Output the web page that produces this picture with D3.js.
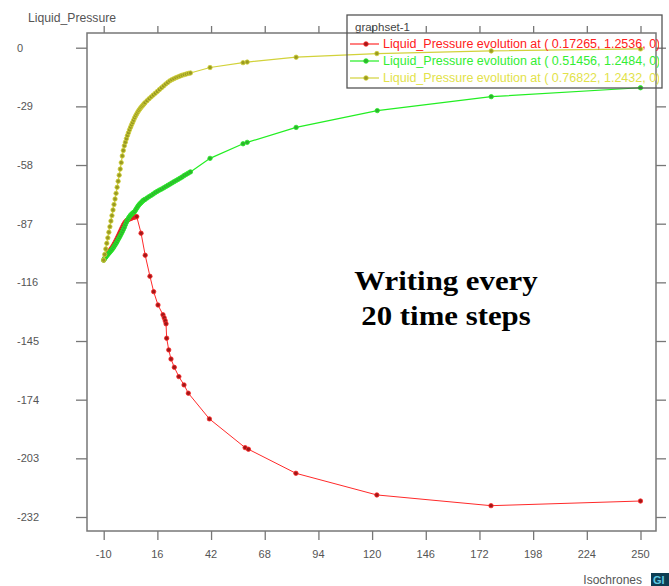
<!DOCTYPE html>
<html>
<head>
<meta charset="utf-8">
<script src="https://cdn.jsdelivr.net/npm/d3@7/dist/d3.min.js"></script>
<style>
  html, body { margin: 0; padding: 0; background: #fff; }
  svg { display: block; font-family: "Liberation Sans", Arial, sans-serif; }
</style>
</head>
<body>
<svg id="chart" width="669" height="586"></svg>
<script>
// Time (x) values and Liquid_Pressure (y) values for each probe location
const redTime = [-10, -9.5, -9, -8.5, -8, -7.5, -7, -6.5, -6, -5.5, -5, -4.5, -4, -3.5, -3, -2.5, -2, -1.5, -1, -0.5,
  0, 0.5, 1, 1.5, 2, 2.5, 3, 3.5, 4, 4.5, 5, 5.5, 6,
  8.1, 10.1, 12.4, 14.2, 16.3, 18.7, 19.3, 19.8, 20.2, 20.5, 21.5, 22.6, 24.2, 26.4, 28.9, 31,
  41.2, 58.5, 60.1, 83.1, 122.3, 177.6, 250];
const redPressure = [-105, -104, -103.2, -102.4, -101.7, -101, -100.3, -99.6, -98.9, -98.1, -97.2, -96.3, -95.3, -94.3, -93.2, -92.1, -91, -89.9, -88.8, -87.8,
  -86.9, -86.2, -85.6, -85.2, -84.9, -84.6, -84.4, -84.2, -84, -83.8, -83.7, -83.6, -83.5,
  -91.7, -102.6, -113, -120.6, -127.2, -132, -133.5, -135, -136.5, -143.6, -149.4, -153.9, -158, -162.6, -166.7, -170.8,
  -183.5, -197.7, -198.5, -210.4, -221.1, -226.4, -224.1];

const greenTime = [-10, -9.5, -9, -8.5, -8, -7.5, -7, -6.5, -6, -5.5, -5, -4.5, -4, -3.5, -3, -2.5, -2, -1.5, -1, -0.5,
  0, 0.5, 1, 1.5, 2, 2.5, 3, 3.5, 4, 4.5, 5, 5.5, 6, 6.5, 7, 7.5, 8, 8.5, 9, 9.5,
  10, 11, 12, 13, 14, 15, 16, 17, 18, 19, 20, 21, 22, 23, 24, 25, 26, 27, 28, 29, 30, 31, 32,
  41.5, 57.5, 59.5, 83.2, 122.5, 177.7, 250];
const greenPressure = [-105, -104.2, -103.5, -102.8, -102.2, -101.6, -101, -100.4, -99.8, -99.1, -98.3, -97.5, -96.7, -95.8, -94.8, -93.9, -93, -92, -91, -89.9,
  -88.8, -87.5, -86.3, -85.2, -84.3, -83.5, -82.8, -82.3, -81.8, -81.4, -81, -80.1, -79.3, -78.5, -77.8, -77.2, -76.7, -76.2, -75.6, -75.3,
  -75, -74.3, -73.6, -73, -72.3, -71.6, -71, -70.4, -69.9, -69.3, -68.7, -68.1, -67.5, -66.9, -66.3, -65.7, -65.1, -64.5, -63.9, -63.2, -62.6, -62, -61.4,
  -54.7, -47.5, -46.8, -39.4, -31.1, -24.2, -19.8];

const yellowTime = [-10, -9.5, -9, -8.5, -8, -7.5, -7, -6.5, -6, -5.5, -5, -4.5, -4, -3.5, -3, -2.5, -2, -1.5, -1, -0.5,
  0, 0.5, 1, 1.5, 2, 2.5, 3, 3.5, 4, 4.5, 5, 5.5, 6, 6.5, 7, 7.5, 8, 8.5, 9, 9.5,
  10, 11, 12, 13, 14, 15, 16, 17, 18, 19, 20, 21, 22, 23, 24, 25, 26, 27, 28, 29, 30, 31, 32,
  41.5, 57.5, 59.5, 83.2, 122.3, 177.7, 250];
const yellowPressure = [-105, -102.2, -99.5, -96.7, -94, -91.2, -88.5, -85.7, -83, -80.2, -77.5, -74.8, -72, -69, -66, -63, -60, -56.8, -53.5, -50.8,
  -48.5, -46.7, -45, -43.4, -42, -40.6, -39.3, -38.1, -37, -35.8, -34.6, -33.6, -32.7, -31.8, -31, -30.3, -29.6, -29, -28.4, -27.8,
  -27.2, -26.2, -25.2, -24.3, -23.4, -22.5, -21.6, -20.7, -19.8, -18.9, -18, -17.2, -16.4, -15.8, -15.3, -14.8, -14.4, -14, -13.6, -13.3, -13, -12.7, -12.5,
  -9.8, -7.4, -7.1, -4.7, -2.9, -1.6, -0.6];

const seriesLabels = [
  "Liquid_Pressure evolution at ( 0.17265, 1.2536, 0)",
  "Liquid_Pressure evolution at ( 0.51456, 1.2484, 0)",
  "Liquid_Pressure evolution at ( 0.76822, 1.2432, 0)"
];
const xTicks = [-10, 16, 42, 68, 94, 120, 146, 172, 198, 224, 250];
const yTicks = [0, -29, -58, -87, -116, -145, -174, -203, -232];

const svg = d3.select("#chart");

// Plot frame and scales
const frame = { left: 87, right: 656, top: 33, bottom: 531 };
const x = d3.scaleLinear().domain([-10, 250]).range([103.7, 640.5]);
const y = d3.scaleLinear().domain([0, -232]).range([47.7, 517]);

const axisColor = "#777";
const labelColor = "#555";

// Axes with outward ticks on all four sides
const gBottom = svg.append("g").attr("transform", `translate(0,${frame.bottom})`)
  .call(d3.axisBottom(x).tickValues(xTicks).tickSize(9).tickFormat(""));
const gTop = svg.append("g").attr("transform", `translate(0,${frame.top})`)
  .call(d3.axisTop(x).tickValues(xTicks).tickSize(7).tickFormat(""));
const gLeft = svg.append("g").attr("transform", `translate(${frame.left},0)`)
  .call(d3.axisLeft(y).tickValues(yTicks).tickSize(11).tickFormat(""));
const gRight = svg.append("g").attr("transform", `translate(${frame.right},0)`)
  .call(d3.axisRight(y).tickValues(yTicks).tickSize(10).tickFormat(""));
[gBottom, gTop, gLeft, gRight].forEach(g => {
  g.select(".domain").remove();
  g.selectAll(".tick line").attr("stroke", axisColor).attr("stroke-width", 1.3);
});

svg.append("rect")
  .attr("x", frame.left).attr("y", frame.top)
  .attr("width", frame.right - frame.left).attr("height", frame.bottom - frame.top)
  .attr("fill", "none").attr("stroke", axisColor).attr("stroke-width", 1.5);

// Tick labels
svg.append("g").selectAll("text").data(yTicks).join("text")
  .attr("x", 17).attr("y", d => y(d) + 4)
  .attr("font-size", 11).attr("fill", labelColor)
  .text(d => d);
svg.append("g").selectAll("text").data(xTicks).join("text")
  .attr("x", d => x(d)).attr("y", 558)
  .attr("text-anchor", "middle")
  .attr("font-size", 11).attr("fill", labelColor)
  .text(d => d);

// Axis titles
svg.append("text").attr("x", 28).attr("y", 22)
  .attr("font-size", 12.2).attr("fill", labelColor).text("Liquid_Pressure");
svg.append("text").attr("x", 642).attr("y", 584).attr("text-anchor", "end")
  .attr("font-size", 12).attr("fill", labelColor).text("Isochrones");

// Curves
const series = [
  { t: redTime, p: redPressure, line: "#ff2a2a", mark: "#a01818", width: 1 },
  { t: greenTime, p: greenPressure, line: "#22ee22", mark: "#30b030", width: 1.2 },
  { t: yellowTime, p: yellowPressure, line: "#d2d23a", mark: "#9a9a22", width: 1.2 }
];
const lineGen = d3.line().x(d => x(d[0])).y(d => y(d[1]));

series.forEach(s => {
  const pts = s.t.map((t, i) => [t, s.p[i]]);
  const g = svg.append("g");
  g.append("path").datum(pts)
    .attr("d", lineGen).attr("fill", "none")
    .attr("stroke", s.line).attr("stroke-width", s.width);
  g.selectAll("circle").data(pts).join("circle")
    .attr("cx", d => x(d[0])).attr("cy", d => y(d[1]))
    .attr("r", 2.2).attr("fill", s.mark).attr("stroke", s.line).attr("stroke-width", 0.8);
});

// Legend
const legend = { x: 347, y: 15, w: 315, h: 73 };
svg.append("defs").append("clipPath").attr("id", "legclip")
  .append("rect").attr("x", legend.x).attr("y", legend.y).attr("width", legend.w - 3).attr("height", legend.h);
svg.append("rect")
  .attr("x", legend.x).attr("y", legend.y).attr("width", legend.w).attr("height", legend.h)
  .attr("fill", "none").attr("stroke", "#555").attr("stroke-width", 1.3);
svg.append("text").attr("x", 355).attr("y", 31)
  .attr("font-size", 11.5).attr("fill", "#444").text("graphset-1");
const legendText = ["#ff2020", "#33ee33", "#e2e24a"];
const legRows = svg.append("g").attr("clip-path", "url(#legclip)");
series.forEach((s, i) => {
  const cy = 44 + i * 17;
  legRows.append("line").attr("x1", 350).attr("x2", 379).attr("y1", cy).attr("y2", cy)
    .attr("stroke", s.line).attr("stroke-width", 1.2);
  legRows.append("circle").attr("cx", 366).attr("cy", cy).attr("r", 2.3)
    .attr("fill", s.mark).attr("stroke", s.line).attr("stroke-width", 0.8);
  legRows.append("text").attr("x", 383).attr("y", cy + 4)
    .attr("font-size", 12.5).attr("fill", legendText[i]).text(seriesLabels[i]);
});

// Annotation
const note = svg.append("text")
  .attr("text-anchor", "middle")
  .attr("transform", "translate(446,0) scale(1.1,1)")
  .style("font-family", "'Liberation Serif', 'Times New Roman', serif")
  .style("font-weight", "bold").style("font-size", "28px").attr("fill", "#000");
note.append("tspan").attr("x", 0).attr("y", 290).text("Writing every");
note.append("tspan").attr("x", 0).attr("y", 325).text("20 time steps");

// Corner badge
svg.append("rect").attr("x", 651).attr("y", 573).attr("width", 18).attr("height", 13).attr("fill", "#0d3d52");
svg.append("text").attr("x", 653).attr("y", 584)
  .attr("font-size", 11).attr("font-weight", "bold").attr("fill", "#5ec8e0").text("GI");
</script>
</body>
</html>
